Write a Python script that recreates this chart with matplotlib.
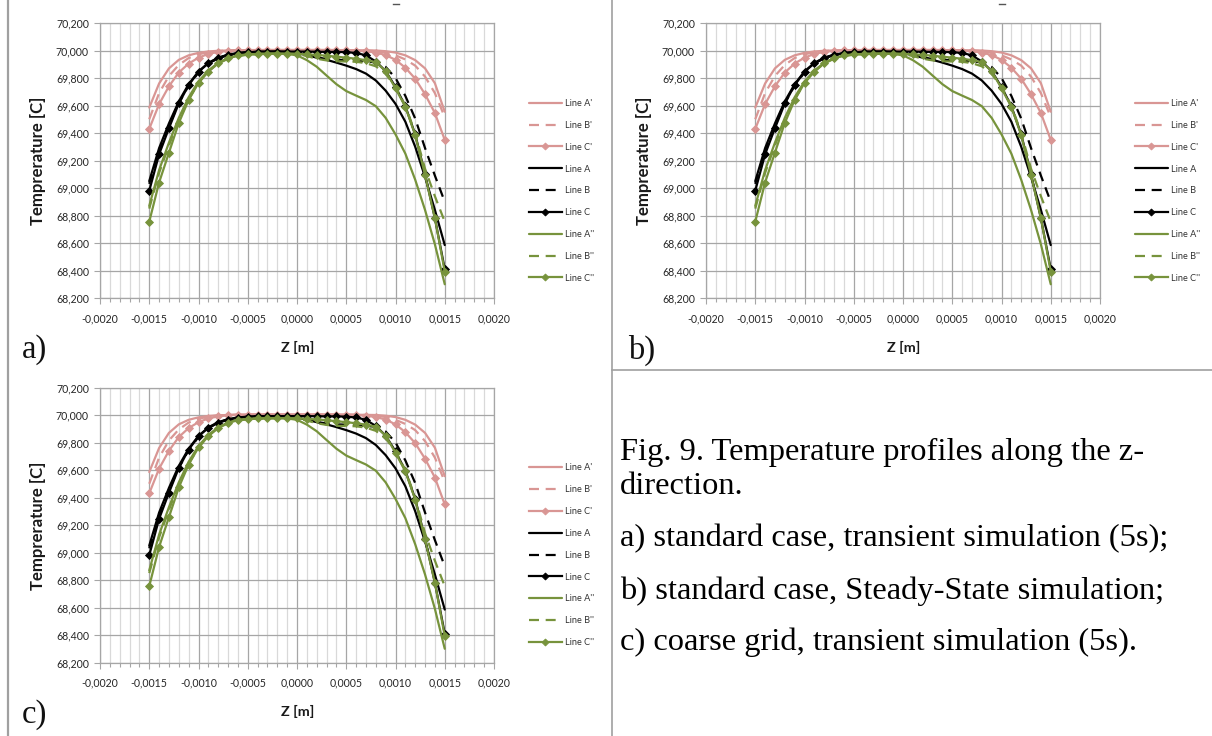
import matplotlib
matplotlib.use('Agg')
import matplotlib.pyplot as plt
from matplotlib.ticker import MultipleLocator, FuncFormatter, FixedLocator
from matplotlib.lines import Line2D

# ---------------- data ----------------
z = [-0.0015, -0.0014, -0.0013, -0.0012, -0.0011, -0.0010, -0.0009, -0.0008,
     -0.0007, -0.0006, -0.0005, -0.0004, -0.0003, -0.0002, -0.0001, 0.0000,
     0.0001, 0.0002, 0.0003, 0.0004, 0.0005, 0.0006, 0.0007, 0.0008,
     0.0009, 0.0010, 0.0011, 0.0012, 0.0013, 0.0014, 0.0015]

line_a1 = [69585, 69760, 69870, 69932, 69965, 69983, 69993, 69998, 70000, 70002, 70003,
           70003, 70004, 70004, 70004, 70004, 70004, 70004, 70004, 70003,
           70003, 70002, 70001, 70000, 69995, 69985, 69965, 69930, 69870, 69762, 69555]
line_b1 = [69500, 69690, 69815, 69895, 69945, 69972, 69988, 69996, 70000, 70002, 70003,
           70003, 70003, 70003, 70003, 70003, 70003, 70003, 70003, 70003,
           70002, 70001, 70000, 69995, 69985, 69965, 69935, 69890, 69810, 69690, 69515]
line_c1 = [69430, 69610, 69740, 69840, 69905, 69948, 69975, 69990, 69998, 70002, 70003,
           70003, 70003, 70003, 70003, 70003, 70003, 70003, 70003, 70003,
           70002, 70000, 69995, 69985, 69967, 69932, 69875, 69795, 69682, 69545, 69350]
line_a = [69050, 69290, 69470, 69630, 69755, 69848, 69910, 69948, 69970, 69982, 69988,
          69990, 69991, 69992, 69990, 69982, 69965, 69948, 69932, 69912,
          69890, 69865, 69832, 69782, 69708, 69612, 69482, 69300, 69080, 68840, 68585]
line_b = [69030, 69270, 69455, 69615, 69745, 69840, 69905, 69945, 69968, 69980, 69987,
          69990, 69990, 69990, 69988, 69982, 69968, 69950, 69938, 69932,
          69930, 69925, 69920, 69915, 69880, 69800, 69670, 69505, 69290, 69090, 68900]
line_c = [68980, 69245, 69435, 69615, 69748, 69845, 69907, 69943, 69966, 69980, 69987,
          69990, 69992, 69992, 69992, 69992, 69992, 69991, 69990, 69990,
          69988, 69982, 69965, 69920, 69850, 69735, 69595, 69390, 69100, 68780, 68410]
line_a2 = [68870, 69130, 69330, 69510, 69660, 69775, 69855, 69910, 69943, 69962, 69970,
           69974, 69976, 69977, 69975, 69965, 69930, 69882, 69818, 69755,
           69705, 69672, 69640, 69595, 69510, 69390, 69250, 69060, 68840, 68590, 68300]
line_b2 = [68850, 69110, 69310, 69495, 69645, 69765, 69848, 69905, 69940, 69960, 69970,
           69974, 69976, 69977, 69977, 69975, 69960, 69940, 69928, 69922,
           69920, 69918, 69908, 69885, 69830, 69735, 69600, 69400, 69140, 68940, 68755]
line_c2 = [68755, 69040, 69257, 69473, 69640, 69764, 69846, 69909, 69945, 69965, 69972,
           69975, 69977, 69977, 69977, 69975, 69972, 69968, 69962, 69955,
           69948, 69940, 69930, 69915, 69850, 69725, 69590, 69385, 69095, 68780, 68392]

series = [line_a1, line_b1, line_c1, line_a, line_b, line_c, line_a2, line_b2, line_c2]
series_labels = ["Line A'", "Line B'", "Line C'", "Line A", "Line B", "Line C",
                 "Line A''", "Line B''", "Line C''"]

x_ticks = [-0.0020, -0.0015, -0.0010, -0.0005, 0.0000, 0.0005, 0.0010, 0.0015, 0.0020]
y_ticks = [68200, 68400, 68600, 68800, 69000, 69200, 69400, 69600, 69800, 70000, 70200]
panel_letters = ['a)', 'b)', 'c)']
caption_lines = ["Fig. 9. Temperature profiles along the z-",
                 "direction.",
                 "a) standard case, transient simulation (5s);",
                 "b) standard case, Steady-State simulation;",
                 "c) coarse grid, transient simulation (5s)."]

# ---------------- styling ----------------
PINK = '#D99694'
BLACK = '#000000'
GREEN = '#77933C'
colors = [PINK, PINK, PINK, BLACK, BLACK, BLACK, GREEN, GREEN, GREEN]
kinds = ['solid', 'dash', 'marker'] * 3

plt.rcParams['font.family'] = ['Lato', 'DejaVu Sans']

W, H = 1212, 736
fig = plt.figure(figsize=(W / 100, H / 100), dpi=100)


def fx(px):
    return px / W


def fy(py):
    return 1 - py / H


def xfmt(v, pos):
    if abs(v) < 1e-12:
        v = 0.0
    return f"{v:.4f}".replace('.', ',')


def yfmt(v, pos):
    return f"{v:,.0f}"


offsets = [(0, 0), (606, 0), (0, 364.5)]
GRID_MAJ = '#A6A6A6'
GRID_MIN = '#D9D9D9'

for (ox, oy), letter in zip(offsets, panel_letters):
    left, right, top, bottom = 100 + ox, 494 + ox, 23 + oy, 298 + oy
    ax = fig.add_axes([fx(left), fy(bottom), fx(right) - fx(left), fy(top) - fy(bottom)])
    ax.set_xlim(-0.002, 0.002)
    ax.set_ylim(68200, 70200)
    ax.xaxis.set_major_locator(FixedLocator(x_ticks))
    ax.xaxis.set_minor_locator(MultipleLocator(0.0001))
    ax.yaxis.set_major_locator(FixedLocator(y_ticks))
    ax.xaxis.set_major_formatter(FuncFormatter(xfmt))
    ax.yaxis.set_major_formatter(FuncFormatter(yfmt))
    ax.grid(which='minor', axis='x', color=GRID_MIN, lw=0.9)
    ax.grid(which='major', axis='x', color=GRID_MAJ, lw=0.9)
    ax.grid(which='major', axis='y', color=GRID_MAJ, lw=0.9)
    ax.set_axisbelow(True)
    for sp in ax.spines.values():
        sp.set_color(GRID_MAJ)
        sp.set_linewidth(0.9)
    ax.tick_params(axis='both', which='major', direction='out', length=4, width=0.8,
                   color=GRID_MAJ, labelsize=7.6, labelcolor='#262626')
    ax.tick_params(axis='x', which='major', pad=7)
    ax.tick_params(axis='y', which='major', pad=4)
    ax.tick_params(axis='x', which='minor', direction='out', length=3, width=0.8, color=GRID_MAJ)

    handles = []
    for ys, col, kind, lab in zip(series, colors, kinds, series_labels):
        if kind == 'solid':
            h, = ax.plot(z, ys, color=col, lw=1.6, solid_capstyle='round', label=lab)
        elif kind == 'dash':
            h, = ax.plot(z, ys, color=col, lw=1.6, linestyle=(0, (4.5, 3)), label=lab)
        else:
            h, = ax.plot(z, ys, color=col, lw=1.6, marker='D', markersize=4.2,
                         markeredgewidth=0.6, label=lab)
        handles.append(h)

    fig.text(fx(38 + ox), fy(161 + oy), 'Temprerature [C]', rotation=90, ha='center',
             va='center', fontsize=12.1, fontweight='bold', color='#1a1a1a')
    fig.text(fx(298 + ox), fy(347 + oy), 'Z [m]', ha='center', va='center',
             fontsize=10.4, fontweight='bold', color='#1a1a1a')
    fig.text(fx(22 + ox), fy(350 + oy), letter, ha='left', va='center',
             fontsize=23.5, family='Liberation Serif', color='#111111')

    fig.legend(handles, series_labels, loc='upper left',
               bbox_to_anchor=(fx(529 + ox), fy(99 + oy)), bbox_transform=fig.transFigure,
               frameon=False, fontsize=6.6, labelspacing=1.4, handlelength=3.55,
               handletextpad=0.4, borderpad=0, borderaxespad=0, numpoints=1,
               markerscale=0.85, labelcolor='#333333')

# frame lines of the page layout
fig.add_artist(Line2D([fx(8), fx(8)], [0, 1], color='#A0A0A0', lw=1.6))
fig.add_artist(Line2D([fx(612), fx(612)], [0, 1], color='#A0A0A0', lw=1.2))
fig.add_artist(Line2D([fx(612), 1], [fy(370), fy(370)], color='#A0A0A0', lw=1.2))
# small remnant marks of cropped titles at the top
fig.add_artist(Line2D([fx(393), fx(399)], [fy(4), fy(4)], color='#555555', lw=1.0))
fig.add_artist(Line2D([fx(999), fx(1005)], [fy(4), fy(4)], color='#555555', lw=1.0))

# caption
cap_y = [452, 486, 539, 591, 642]
for txt, cy in zip(caption_lines, cap_y):
    fig.text(fx(620), fy(cy), txt, ha='left', va='center', fontsize=23.4,
             family='Liberation Serif', color='#000000')

fig.savefig('out.png', dpi=100, facecolor='white')
